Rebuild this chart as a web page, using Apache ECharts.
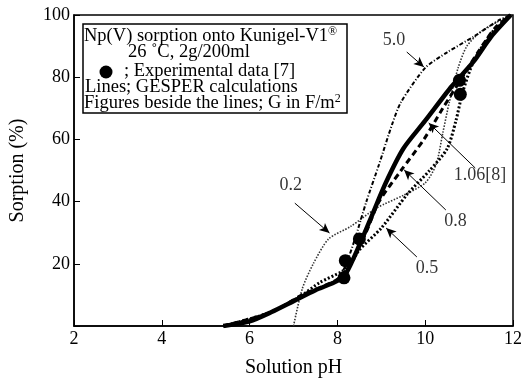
<!DOCTYPE html>
<html>
<head>
<meta charset="utf-8">
<script src="https://cdn.jsdelivr.net/npm/echarts@6/dist/echarts.min.js"></script>
<style>
  html, body { margin: 0; padding: 0; background: #fff; }
  #chart { width: 525px; height: 383px; }
</style>
</head>
<body>
<div id="chart"></div>
<script>
// values: [pH, sorption %]
const xTicks = [2, 4, 6, 8, 10, 12];
const yTicks = [0, 20, 40, 60, 80, 100];

const g106 = [[5.4,0],[6.0,1.5],[6.5,4.5],[7.0,8],[7.5,11.5],[8.0,14.5],[8.2,17],[8.5,26],[8.8,36],[9.1,46],[9.5,57],[10.0,66],[10.6,77],[11.1,85],[11.5,93],[11.95,100]];
const g50 = [[5.4,0],[6.5,4.5],[7.2,10],[8.0,15],[8.2,20],[8.4,28],[8.66,40],[8.95,52],[9.25,65],[9.45,72],[10.0,83],[10.5,88],[11.1,93],[11.7,98.5],[11.95,100]];
const g08 = [[5.4,0],[6.5,4.5],[7.2,10],[8.0,15],[8.3,20],[8.65,30],[8.95,40],[9.45,50],[9.97,60],[10.4,70],[10.8,79],[11.2,88],[11.6,96],[11.95,100]];
const g05 = [[5.4,0],[6.5,4.5],[7.2,10],[7.6,14],[8.1,17.5],[8.3,20],[8.5,24.5],[9.0,31.5],[9.6,42.5],[10.1,50],[10.5,57],[10.7,66],[10.85,75],[11.1,85],[11.5,94],[11.95,100]];
const g02 = [[7.0,0],[7.2,12],[7.45,20],[7.8,28],[8.3,32],[8.9,38],[9.5,42],[10.0,46],[10.25,52],[10.4,62],[10.55,72],[10.75,83],[10.95,90],[11.3,95],[11.95,100]];
const experimental = [[8.15,15.5],[8.18,21],[8.5,28],[10.78,79],[10.8,74.5]];

// labels beside lines: [text, textX, textY, arrowFromX, arrowFromY, arrowToX, arrowToY]
const lineLabels = [
  ["5.0", 9.29, 92, 9.58, 88.1, 9.97, 83.3],
  ["1.06[8]", 11.25, 48.6, 11.14, 50.8, 10.08, 65.3],
  ["0.8", 10.69, 33.8, 10.47, 37.3, 9.52, 50.2],
  ["0.5", 10.04, 18.6, 9.81, 22.2, 9.11, 31.5],
  ["0.2", 6.94, 45.3, 7.03, 39.5, 7.82, 29.9]
];

const serif = "Liberation Serif";
const chart = echarts.init(document.getElementById("chart"));

const curve = (name, data, width, type, color) => ({
  name, type: "line", data, smooth: 0.25, symbol: "none", z: 3,
  lineStyle: { color: color || "#000", width, type }
});

const legendText = (left, top, text) => ({
  type: "text", left, top, z: 11,
  style: {
    text, fill: "#000", font: "18.5px " + serif,
    rich: {
      n: { fontFamily: serif, fontSize: 18.5, fill: "#000", lineHeight: 18 },
      sup: { fontFamily: serif, fontSize: 12, fill: "#000", verticalAlign: "top", padding: [0, 0, 8, 0] }
    }
  }
});

chart.setOption({
  animation: false,
  grid: { left: 72, right: 10, top: 15, bottom: 57, show: true, borderColor: "#000", borderWidth: 1.5 },
  xAxis: {
    type: "value", min: xTicks[0], max: xTicks[xTicks.length - 1], interval: 2,
    name: "Solution pH", nameLocation: "middle", nameGap: 32,
    nameTextStyle: { fontFamily: serif, fontSize: 20, color: "#000" },
    axisLine: { lineStyle: { color: "#000", width: 1.5 } },
    axisTick: { inside: true, length: 6, lineStyle: { color: "#000" } },
    axisLabel: { fontFamily: serif, fontSize: 18, color: "#000", margin: 4 },
    splitLine: { show: false }
  },
  yAxis: {
    type: "value", min: yTicks[0], max: yTicks[yTicks.length - 1], interval: 20,
    name: "Sorption (%)", nameLocation: "middle", nameGap: 46,
    nameTextStyle: { fontFamily: serif, fontSize: 20, color: "#000" },
    axisLine: { lineStyle: { color: "#000", width: 1.5 } },
    axisTick: { inside: true, length: 6, lineStyle: { color: "#000" } },
    axisLabel: { fontFamily: serif, fontSize: 18, color: "#000", margin: 4,
      formatter: v => (v === 0 ? "" : v) },
    splitLine: { show: false }
  },
  series: [
    curve("0.2", g02, 1.6, [1.5, 1.5], "#333"),
    curve("0.5", g05, 3, [2, 2]),
    curve("0.8", g08, 3, [6, 4]),
    curve("5.0", g50, 2, [4, 2, 1, 2]),
    curve("1.06", g106, 4.5, "solid"),
    {
      name: "Experimental", type: "scatter", data: experimental, symbol: "circle",
      symbolSize: 13, itemStyle: { color: "#000", opacity: 1 }, z: 5
    },
    {
      name: "labels", type: "scatter", symbolSize: 0, z: 6,
      data: lineLabels.map(l => ({ value: [l[1], l[2]], name: l[0] })),
      label: { show: true, position: "inside", formatter: p => p.name,
        fontFamily: serif, fontSize: 18, color: "#000" },
      markLine: {
        silent: true, symbol: ["none", "arrow"], symbolSize: [7, 10],
        lineStyle: { color: "#000", width: 1, type: "solid" }, label: { show: false },
        data: lineLabels.map(l => [{ coord: [l[3], l[4]] }, { coord: [l[5], l[6]] }])
      }
    }
  ],
  graphic: [
    { type: "rect", shape: { x: 83, y: 24, width: 264, height: 89 },
      style: { fill: "#fff", stroke: "#000", lineWidth: 1.5 }, z: 10 },
    legendText(84, 26, "{n|Np(V) sorption onto Kunigel-V1}{sup|\u00ae}"),
    legendText(128, 43, "{n|26 \u02daC, 2g/200ml}"),
    { type: "circle", shape: { cx: 106, cy: 72, r: 6.5 }, style: { fill: "#000" }, z: 11 },
    legendText(124, 62, "{n|; Experimental data [7]}"),
    legendText(85, 78, "{n|Lines; GESPER calculations}"),
    legendText(84, 93, "{n|Figures beside the lines; G in F/m}{sup|2}")
  ]
});
</script>
</body>
</html>
